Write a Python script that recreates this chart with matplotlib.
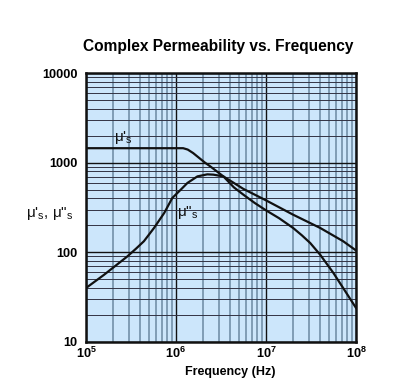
import matplotlib
matplotlib.use("Agg")
import matplotlib.pyplot as plt
import numpy as np
from matplotlib.ticker import LogLocator, FixedLocator, FixedFormatter, NullFormatter

plt.rcParams['font.family'] = ['Liberation Sans', 'DejaVu Sans']
plt.rcParams['mathtext.default'] = 'regular'

# Data
freq_mu1 = [1e5, 3e5, 1e6, 1.2e6, 1.35e6, 1.55e6, 2.1e6, 2.4e6, 3.36e6, 4.4e6, 5.6e6, 7.5e6,
            1e7, 1.4e7, 2e7, 2.5e7, 3.1e7, 4e7, 5.6e7, 7.2e7, 1e8]
mu1 = [1450, 1450, 1450, 1450, 1400, 1280, 1000, 910, 703, 530, 440, 355,
       294, 240, 187, 155, 127, 94, 59, 40, 24]

freq_mu2 = [1e5, 1.58e5, 2.88e5, 3.6e5, 4.4e5, 5.7e5, 7.4e5, 9.1e5, 1.13e6, 1.34e6, 1.73e6,
            2.23e6, 2.6e6, 3.36e6, 5.6e6, 1e7, 2e7, 4e7, 7.2e7, 1e8]
mu2 = [40, 56, 90, 110, 133, 187, 275, 404, 500, 594, 703,
       741, 735, 703, 510, 380, 263, 187, 133, 105]

xticks = [1e5, 1e6, 1e7, 1e8]
xticklabels = ['10$^5$', '10$^6$', '10$^7$', '10$^8$']
yticks = [10, 100, 1000, 10000]
yticklabels = ['10', '100', '1000', '10000']

fig = plt.figure(figsize=(4.13, 3.84), dpi=100)
ax = fig.add_axes([86/413, 1-342/384, 270/413, 269/384])
ax.set_facecolor('#cce6fb')

ax.set_xscale('log')
ax.set_yscale('log')
ax.set_xlim(1e5, 1e8)
ax.set_ylim(10, 10000)

# grid
ax.xaxis.set_minor_locator(LogLocator(base=10, subs=np.arange(2, 10)))
ax.yaxis.set_minor_locator(LogLocator(base=10, subs=np.arange(2, 10)))
ax.xaxis.set_minor_formatter(NullFormatter())
ax.yaxis.set_minor_formatter(NullFormatter())
ax.grid(which='major', axis='both', color='#111111', linewidth=1.0)
ax.grid(which='minor', axis='x', color='#7f9cb5', linewidth=1.4)
ax.grid(which='minor', axis='y', color='#333344', linewidth=0.7)
ax.set_axisbelow(True)

ax.plot(freq_mu1, mu1, color='#111111', linewidth=1.6, zorder=3)
ax.plot(freq_mu2, mu2, color='#111111', linewidth=1.6, zorder=3)

ax.xaxis.set_major_locator(FixedLocator(xticks))
ax.xaxis.set_major_formatter(FixedFormatter(xticklabels))
ax.yaxis.set_major_locator(FixedLocator(yticks))
ax.yaxis.set_major_formatter(FixedFormatter(yticklabels))
ax.tick_params(which='both', length=0, labelsize=9.2)
ax.tick_params(axis='y', pad=6)
ax.tick_params(axis='x', pad=3)
for lab in ax.get_xticklabels() + ax.get_yticklabels():
    lab.set_fontweight('bold')

for s in ax.spines.values():
    s.set_linewidth(1.8)
    s.set_color('#111111')

ax.text(2.6e5, 1900, "μ'$_s$", fontsize=11, ha='center', va='center', color='#111111')
ax.text(1.35e6, 280, "μ\"$_s$", fontsize=11, ha='center', va='center', color='#111111')

fig.text(50/413, 1-213/384, "μ'$_s$, μ\"$_s$", fontsize=11, ha='center', va='center', color='#111111')
fig.text(218/413, 1-47/384, "Complex Permeability vs. Frequency", fontsize=11.2,
         fontweight='bold', ha='center', va='center')
fig.text(230/413, 1-372/384, "Frequency (Hz)", fontsize=9, fontweight='bold',
         ha='center', va='center')

fig.savefig('out.png', dpi=100, facecolor='white')
